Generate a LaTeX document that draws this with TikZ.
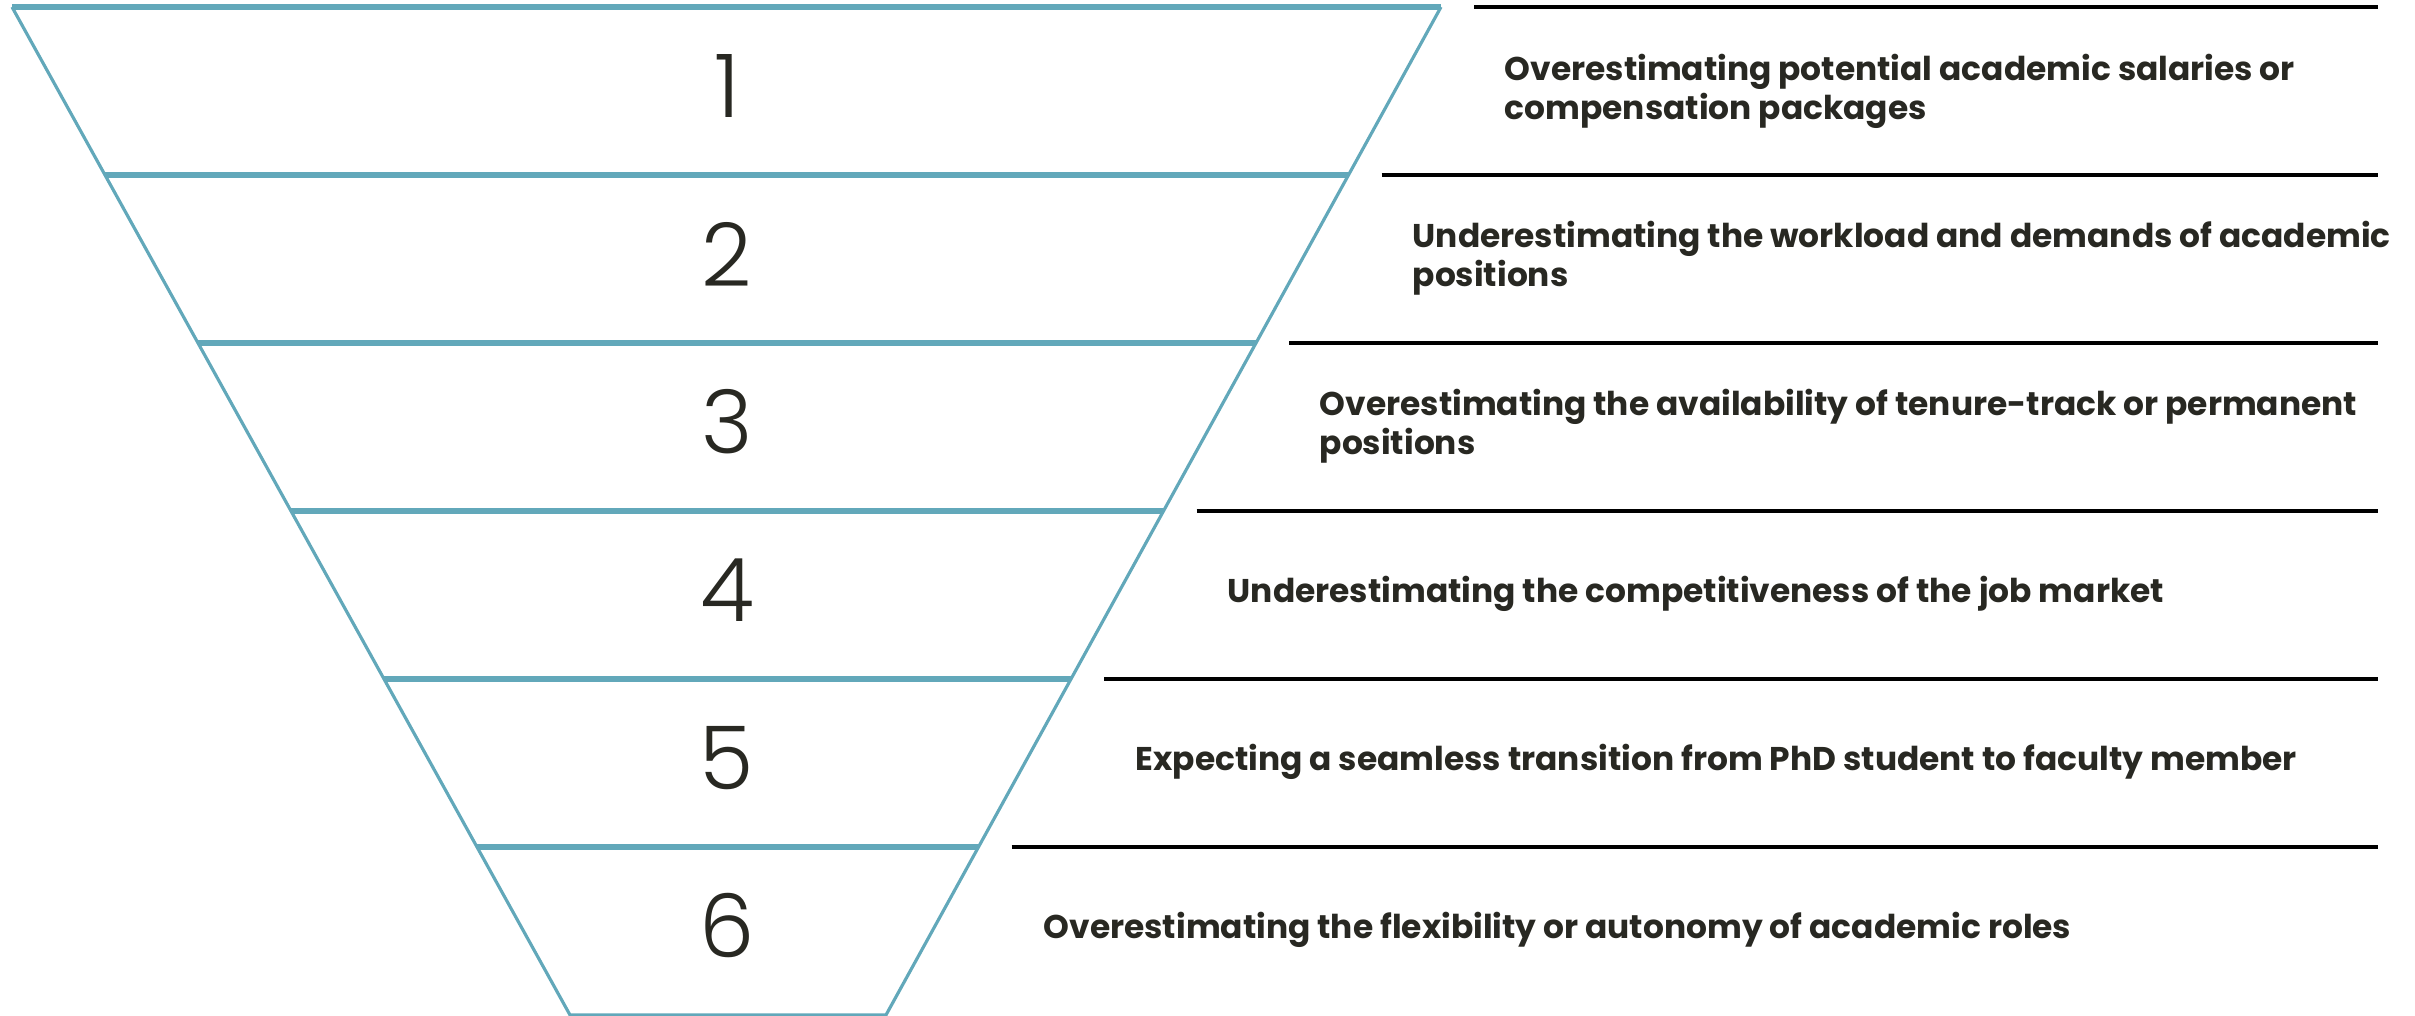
\documentclass[tikz,border=0pt]{standalone}
\usepackage{fontspec}
\setmainfont{Poppins}
\newfontfamily\numfont{Poppins Light}
\usepackage{tikz}
\usetikzlibrary{positioning}
\definecolor{FunnelBlue}{RGB}{98,168,186}
\definecolor{InkBlack}{RGB}{40,40,34}

\begin{document}
\begin{tikzpicture}[
    funnelside/.style={FunnelBlue, line width=0.9pt},
    funnelsep/.style={FunnelBlue, line width=1.5pt},
    rowline/.style={black, line width=1pt},
    rownum/.style={text=InkBlack, inner sep=0pt, font=\numfont\fontsize{25}{25}\selectfont},
    rowtext/.style={anchor=west, align=left, inner sep=0pt, text=InkBlack,
                    font=\bfseries\fontsize{9.35}{11.1}\selectfont}
  ]
                    \useasboundingbox (0,0) rectangle (24.15,10.16);
                    \foreach \i in {0,...,6} {
                        \coordinate (L\i) at ({0.12+0.93*\i},{10.09-1.68*\i});
                        \coordinate (R\i) at ({14.41-0.925*\i},{10.09-1.68*\i});
                        \coordinate (E\i) at (23.78,{10.09-1.68*\i});
                    }
%                    funnel
                    \draw[funnelside] (L0) -- (L6) -- (R6) -- (R0);
                    \foreach \i in {0,...,5} {
                        \draw[funnelsep] (L\i) -- (R\i);
                        \draw[rowline] ([xshift=0.33cm]R\i) -- (E\i);
                    }

                    \node[rownum] (num1) at (7.27,9.30) {1};
                    \node[rownum] (num2) at (7.27,7.62) {2};
                    \node[rownum] (num3) at (7.27,5.94) {3};
                    \node[rownum] (num4) at (7.27,4.26) {4};
                    \node[rownum] (num5) at (7.27,2.58) {5};
                    \node[rownum] (num6) at (7.27,0.90) {6};

%                    Texts
                    \node[rowtext] (txt1) at (15.04,9.25) {Overestimating potential academic salaries or\\compensation packages};
                    \node[rowtext] (txt2) at (14.12,7.58) {Underestimating the workload and demands of academic\\positions};
                    \node[rowtext] (txt3) at (13.19,5.90) {Overestimating the availability of tenure-track or permanent\\positions};
                    \node[rowtext] (txt4) at (12.27,4.22) {Underestimating the competitiveness of the job market};
                    \node[rowtext] (txt5) at (11.35,2.54) {Expecting a seamless transition from PhD student to faculty member};
                    \node[rowtext] (txt6) at (10.43,0.86) {Overestimating the flexibility or autonomy of academic roles};

                \end{tikzpicture}
\end{document}
